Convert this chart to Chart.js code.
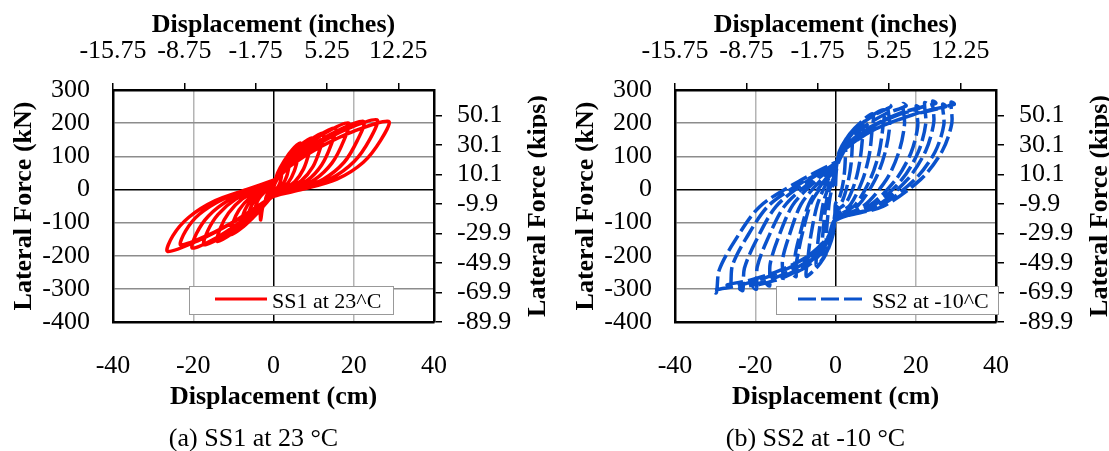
<!DOCTYPE html>
<html>
<head>
<meta charset="utf-8">
<script src="https://cdn.jsdelivr.net/npm/chart.js@4.4.1/dist/chart.umd.min.js"></script>
<style>
  body { margin: 0; background: #fff; }
  .panel { position: absolute; top: 0; width: 547px; height: 451px; }
</style>
</head>
<body>
<div class="panel" style="left:0"><canvas id="chartA" width="547" height="451"></canvas></div>
<div class="panel" style="left:562px"><canvas id="chartB" width="547" height="451"></canvas></div>
<script>
// axis ticks
const cmTicks = [-40, -20, 0, 20, 40];
const kNTicks = [-400, -300, -200, -100, 0, 100, 200, 300];
const inchTicks = [-15.75, -8.75, -1.75, 5.25, 12.25];
const kipsTicks = [-89.9, -69.9, -49.9, -29.9, -9.9, 10.1, 30.1, 50.1];

// SS1 at 23 C : displacement (cm) / lateral force (kN), one line per cycle
const ss1Disp = [
  0, 0.3, 0.8, 1.4, 2, 1.86, 1.56, 1.1, 0.5, 0, -0.3, -0.8, -1.4, -2, -1.9, -1.6, -1.1, -0.5, 0,
  0.6, 1.7, 2.9, 4.2, 3.9, 3.3, 2.3, 1.1, 0, -0.7, -1.8, -3.2, -4.5, -4.3, -3.6, -2.5, -1.1, 0,
  1, 2.7, 4.7, 6.7, 6.2, 5.2, 3.7, 1.7, 0, -1, -2.6, -4.6, -6.5, -6.2, -5.2, -3.6, -1.6, 0,
  1.4, 3.8, 6.7, 9.6, 8.9, 7.5, 5.3, 2.4, 0, -1.2, -2.6, -3.2, -3.5, -5.7, -8.2, -7.8, -6.6, -4.5, -2, 0,
  1.9, 5, 8.8, 12.5, 11.6, 9.8, 6.9, 3.1, 0, -1.6, -4.3, -7.5, -10.7, -10.2, -8.6, -5.9, -2.7, 0,
  2.3, 6.2, 10.8, 15.4, 14.3, 12, 8.5, 3.9, 0, -2.1, -5.6, -9.8, -14, -13.3, -11.2, -7.7, -3.5, 0,
  2.8, 7.5, 13.1, 18.7, 17.4, 14.6, 10.3, 4.7, 0, -2.6, -6.9, -12.1, -17.3, -16.4, -13.8, -9.5, -4.3, 0,
  3.4, 9, 15.8, 22.5, 20.9, 17.6, 12.4, 5.6, 0, -3, -8.1, -14.1, -20.2, -19.2, -16.2, -11.1, -5, 0,
  3.9, 10.3, 18.1, 25.8, 24, 20.1, 14.2, 6.5, 0, -3.5, -9.2, -16.2, -23.1, -21.9, -18.5, -12.7, -5.8, 0,
  4.3, 11.5, 20.1, 28.7, 26.7, 22.4, 15.8, 7.2, 0, -4, -10.6, -18.5, -26.4, -25.1, -21.1, -14.5, -6.6, 0
];
const ss1Force = [
  5, 16, 28, 39, 45, 32, 18, 7, 0, -4, -10, -19, -29, -35, -26, -16, -6, 0, 5,
  35, 62, 86, 100, 72, 40, 15, 0, -10, -17, -33, -49, -60, -45, -27, -11, 0, 9,
  49, 87, 120, 140, 101, 56, 21, 0, -14, -27, -52, -78, -95, -71, -43, -17, 0, 14,
  54, 96, 133, 155, 112, 62, 23, 0, -16, -31, -50, -92, -66, -92, -112, -84, -50, -20, 0, 17,
  60, 105, 146, 170, 122, 68, 26, 0, -17, -38, -75, -112, -137, -103, -62, -25, 0, 21,
  65, 115, 159, 185, 133, 74, 28, 0, -19, -44, -86, -129, -157, -118, -71, -28, 0, 24,
  70, 124, 172, 200, 144, 80, 30, 0, -20, -47, -92, -137, -167, -125, -75, -30, 0, 25,
  72, 127, 176, 205, 148, 82, 31, 0, -21, -50, -97, -145, -177, -133, -80, -32, 0, 27,
  74, 130, 181, 210, 151, 84, 32, 0, -21, -47, -92, -137, -167, -125, -75, -30, 0, 25,
  72, 127, 176, 205, 148, 82, 31, 0, -21, -52, -103, -153, -187, -140, -84, -34, 0, 28
];

// SS2 at -10 C
const ss2Disp = [
  0, 0.25, 0.9, 1.8, 2.5, 2.45, 2.25, 1.8, 1, 0, -0.16, -0.6, -1.2, -1.8, -2.3, -2.2, -1.9, -1.4, -0.7, 0,
  0.43, 1.5, 3, 4.3, 4.2, 3.9, 3.1, 1.7, 0, -0.25, -0.9, -1.8, -2.8, -3.5, -3.3, -2.9, -2.2, -1.05, 0,
  0.7, 2.4, 4.8, 6.8, 6.7, 6.1, 4.9, 2.7, 0, -0.34, -1.25, -2.5, -3.8, -4.8, -4.6, -4, -3, -1.4, 0,
  0.93, 3.3, 6.5, 9.3, 9.1, 8.4, 6.7, 3.7, 0, -0.5, -1.9, -3.8, -5.8, -7.3, -6.9, -6.1, -4.5, -2.2, 0,
  1.2, 4.2, 8.4, 12, 11.8, 10.8, 8.6, 4.8, 0, -0.7, -2.5, -5.1, -7.7, -9.8, -9.3, -8.1, -6.1, -2.9, 0,
  1.4, 4.8, 9.7, 13.8, 13, 13.5, 12.4, 9.9, 5.5, 0, -0.74, -2.8, -5.5, -8.4, -10.6, -9.8, -10.1, -8.8, -6.6, -3.2, 0,
  1.8, 6.2, 12.3, 17.6, 16.8, 17.2, 15.8, 12.7, 7, 0, -1, -3.6, -7.2, -11, -13.9, -13.1, -13.2, -11.5, -8.6, -4.2, 0,
  2.1, 7.3, 14.6, 20.9, 20.1, 20.5, 18.8, 15, 8.4, 0, -1.2, -4.5, -8.9, -13.6, -17.2, -16.4, -16.3, -14.3, -10.7, -5.2, 0,
  2.3, 8, 16.1, 23, 22.2, 22.5, 20.7, 16.6, 9.2, 0, -1.4, -5.3, -10.7, -16.2, -20.5, -19.7, -19.5, -17, -12.7, -6.2, 0,
  2.5, 8.8, 17.5, 25, 24.2, 24.5, 22.5, 18, 10, 0, -1.7, -6.2, -12.4, -18.9, -23.9, -23.1, -22.7, -19.8, -14.8, -7.2, 0,
  2.8, 9.6, 19.3, 27.5, 26.7, 27, 24.8, 19.8, 11, 0, -1.9, -7, -14, -21.3, -27, -26.2, -25.7, -22.4, -16.7, -8.1, 0,
  3, 10.4, 20.7, 29.6, 28.8, 29, 26.6, 21.3, 11.8, 0, -2.1, -7.9, -15.9, -24.1, -30.5, -29.7, -29, -25.3, -18.9, -9.2, 0
];
const ss2Force = [
  10, 60, 86, 108, 120, 94, 54, 14, -24, -43, -75, -105, -128, -143, -150, -120, -78, -26, 12, 41,
  88, 126, 158, 175, 137, 79, 21, -35, -63, -98, -137, -166, -185, -195, -156, -101, -33, 16, 53,
  98, 140, 176, 195, 152, 88, 23, -39, -70, -115, -161, -196, -219, -230, -184, -120, -39, 18, 62,
  114, 164, 205, 228, 178, 103, 27, -46, -82, -131, -183, -223, -249, -262, -210, -136, -45, 21, 71,
  120, 173, 216, 240, 187, 108, 29, -48, -86, -120, -168, -204, -228, -240, -192, -125, -41, 19, 65,
  125, 180, 225, 250, 257, 195, 113, 30, -50, -90, -128, -179, -217, -242, -255, -263, -204, -133, -43, 20, 69,
  126, 181, 227, 252, 259, 197, 113, 30, -50, -91, -133, -186, -225, -252, -265, -273, -212, -138, -45, 21, 72,
  123, 176, 221, 245, 252, 191, 110, 29, -49, -88, -142, -198, -241, -269, -283, -291, -226, -147, -48, 23, 76,
  128, 184, 230, 255, 262, 199, 115, 31, -51, -92, -147, -205, -249, -278, -293, -301, -234, -152, -50, 23, 79,
  130, 187, 234, 260, 266, 203, 117, 31, -52, -94, -149, -209, -253, -283, -298, -305, -238, -155, -51, 24, 80,
  125, 180, 225, 250, 257, 195, 113, 30, -50, -90, -144, -202, -245, -274, -288, -296, -230, -150, -49, 23, 78,
  128, 185, 231, 257, 263, 200, 116, 31, -51, -93, -152, -213, -259, -290, -305, -312, -244, -159, -52, 24, 82
];

const FONT = '"Liberation Serif", "Times New Roman", serif';
const tickFont = { family: FONT, size: 26 };

// titles, legend box and caption drawn on top
function decorPlugin(cfg) {
  return {
    id: 'decor',
    afterDraw(chart) {
      const { ctx, chartArea: a } = chart;
      const cx = (a.left + a.right) / 2;
      const cy = (a.top + a.bottom) / 2;
      ctx.save();
      ctx.fillStyle = '#000';
      ctx.textAlign = 'center';
      ctx.textBaseline = 'alphabetic';
      ctx.font = 'bold 26px ' + FONT;
      ctx.fillText('Displacement (inches)', cx, 32);
      ctx.fillText('Displacement (cm)', cx, 404);
      ctx.save();
      ctx.translate(31, cy);
      ctx.rotate(-Math.PI / 2);
      ctx.fillText('Lateral Force (kN)', 0, 0);
      ctx.restore();
      ctx.save();
      ctx.translate(a.right + 111, cy);
      ctx.rotate(-Math.PI / 2);
      ctx.fillText('Lateral Force (kips)', 0, 0);
      ctx.restore();

      ctx.font = '26px ' + FONT;
      ctx.fillText(cfg.caption, cx - 20, 446);

      // legend
      const ds = chart.data.datasets[0];
      const bx = a.left + cfg.boxLeft;
      ctx.fillStyle = '#fff';
      ctx.fillRect(bx, 286, cfg.boxWidth, 28);
      ctx.strokeStyle = '#999';
      ctx.lineWidth = 1;
      ctx.strokeRect(bx + 0.5, 286.5, cfg.boxWidth, 28);
      ctx.strokeStyle = ds.borderColor;
      ctx.lineWidth = 3;
      ctx.setLineDash(ds.borderDash || []);
      ctx.beginPath();
      ctx.moveTo(a.left + cfg.lineFrom, 299);
      ctx.lineTo(a.left + cfg.lineTo, 299);
      ctx.stroke();
      ctx.setLineDash([]);
      ctx.fillStyle = '#000';
      ctx.textAlign = 'left';
      ctx.font = '22px ' + FONT;
      ctx.fillText(ds.label, a.left + cfg.lineTo + 5, 308);
      ctx.restore();
    }
  };
}

function makeChart(id, label, xs, ys, color, dash, cfg) {
  return new Chart(document.getElementById(id), {
    type: 'scatter',
    data: {
      datasets: [{
        label: label,
        data: xs.map((x, i) => ({ x: x, y: ys[i] })),
        showLine: true,
        borderColor: color,
        borderWidth: 3.5,
        borderDash: dash,
        borderJoinStyle: 'round',
        pointRadius: 0,
        tension: 0.3,
        xAxisID: 'x',
        yAxisID: 'y'
      }]
    },
    options: {
      responsive: false,
      animation: false,
      events: [],
      layout: { padding: 0 },
      plugins: { legend: { display: false }, tooltip: { enabled: false } },
      scales: {
        x: {
          type: 'linear', position: 'bottom', min: -40, max: 40,
          afterBuildTicks: s => { s.ticks = cmTicks.map(v => ({ value: v })); },
          afterFit: s => { s.height = 129; },
          ticks: { font: tickFont, color: '#000', padding: 29, maxRotation: 0, autoSkip: false },
          grid: {
            color: c => (c.tick && c.tick.value === 0 ? '#000' : '#b4b4b4'),
            lineWidth: 1.5, drawTicks: false
          },
          border: { color: '#000', width: 2.5 }
        },
        x2: {
          type: 'linear', position: 'top', min: -40 / 2.54, max: 40 / 2.54,
          afterBuildTicks: s => { s.ticks = inchTicks.map(v => ({ value: v })); },
          afterFit: s => { s.height = 90; },
          ticks: { font: tickFont, color: '#000', padding: 16, maxRotation: 0, autoSkip: false,
                   callback: v => v.toFixed(2) },
          grid: { drawOnChartArea: false, drawTicks: true, tickLength: 7, tickColor: '#000', lineWidth: 1.5 },
          border: { color: '#000', width: 2.5 }
        },
        y: {
          type: 'linear', position: 'left', min: -400, max: 300,
          afterBuildTicks: s => { s.ticks = kNTicks.map(v => ({ value: v })); },
          afterFit: s => { s.width = 113; },
          ticks: { font: tickFont, color: '#000', padding: 23, autoSkip: false },
          grid: {
            color: c => (c.tick && c.tick.value === 0 ? '#000' : '#8c8c8c'),
            lineWidth: 1.5, drawTicks: false
          },
          border: { color: '#000', width: 2.5 }
        },
        y2: {
          type: 'linear', position: 'right', min: -400 / 4.448222, max: 300 / 4.448222,
          afterBuildTicks: s => { s.ticks = kipsTicks.map(v => ({ value: v })); },
          afterFit: s => { s.width = 113; },
          ticks: { font: tickFont, color: '#000', padding: 15, autoSkip: false,
                   callback: v => v.toFixed(1) },
          grid: { drawOnChartArea: false, drawTicks: true, tickLength: 8, tickColor: '#000', lineWidth: 1.5 },
          border: { color: '#000', width: 2.5 }
        }
      }
    },
    plugins: [decorPlugin(cfg)]
  });
}

makeChart('chartA', 'SS1 at 23^C', ss1Disp, ss1Force, '#ff0000', [],
  { caption: '(a) SS1 at 23 °C', boxLeft: 76, boxWidth: 204, lineFrom: 102, lineTo: 154 });
makeChart('chartB', 'SS2 at -10^C', ss2Disp, ss2Force, '#0a52cc', [18, 5],
  { caption: '(b) SS2 at -10 °C', boxLeft: 101, boxWidth: 222, lineFrom: 123, lineTo: 192 });
</script>
</body>
</html>
